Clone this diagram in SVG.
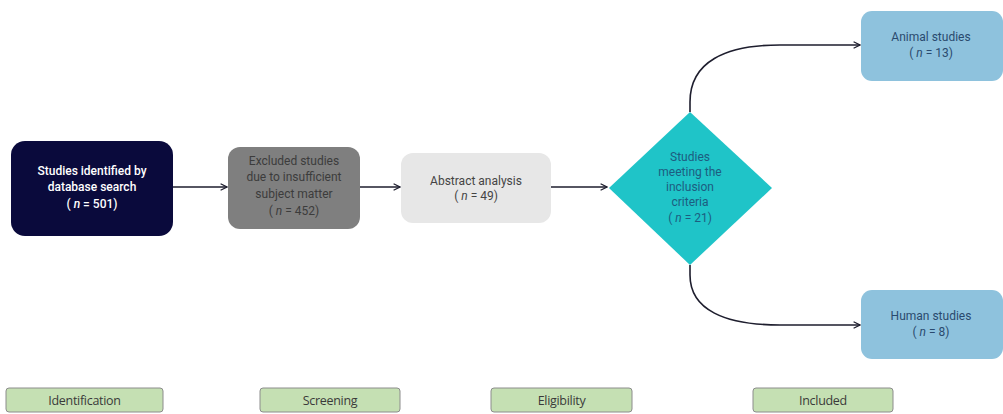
<svg xmlns="http://www.w3.org/2000/svg" width="1003" height="414" viewBox="0 0 1003 414">
<defs>
<style>
.t{font-family:Roboto,"Liberation Sans",sans-serif;font-size:12px;text-anchor:middle}
.lab{font-family:"Open Sans","Liberation Sans",sans-serif;font-size:12.5px;text-anchor:middle;fill:#3a3a3a;letter-spacing:-0.3px}
.conn{fill:none;stroke:#1e1e2e;stroke-width:1.6}
.stage{fill:#c5e0b3;stroke:#8c8c8c;stroke-width:1}
</style>
<marker id="arr" viewBox="0 0 10 10" refX="9" refY="5" markerWidth="8" markerHeight="8" orient="auto" markerUnits="userSpaceOnUse">
<path d="M1,1 L9,5 L1,9" fill="none" stroke="#1e1e2e" stroke-width="1.6"/>
</marker>
</defs>
<rect width="1003" height="414" fill="#ffffff"/>
<g id="connectors">
<line class="conn" x1="173" y1="187" x2="227" y2="187" marker-end="url(#arr)"/>
<line class="conn" x1="360" y1="187" x2="400" y2="187" marker-end="url(#arr)"/>
<line class="conn" x1="551" y1="187" x2="607" y2="187" marker-end="url(#arr)"/>
<path class="conn" d="M690,112 L690,102 C690,62 725,45 780,45 L860,45" marker-end="url(#arr)"/>
<path class="conn" d="M690,265 L690,275 C690,310 725,325 780,325 L860,325" marker-end="url(#arr)"/>
</g>
<g id="n1">
<rect x="11" y="141" width="162" height="95" rx="14" fill="#0a0a3c"/>
<text class="t" fill="#ffffff" font-weight="500" x="92" y="175">Studies identified by</text>
<text class="t" fill="#ffffff" font-weight="500" x="92" y="191">database search</text>
<text class="t" fill="#ffffff" font-weight="500" x="92" y="208">( <tspan font-style="italic">n</tspan> = 501)</text>
</g>
<g id="n2">
<rect x="228" y="147" width="132" height="82" rx="12" fill="#7f7f7f"/>
<text class="t" fill="#3c3c3c" x="294" y="165">Excluded studies</text>
<text class="t" fill="#3c3c3c" x="294" y="181">due to insufficient</text>
<text class="t" fill="#3c3c3c" x="294" y="198">subject matter</text>
<text class="t" fill="#3c3c3c" x="294" y="215">( <tspan font-style="italic">n</tspan> = 452)</text>
</g>
<g id="n3">
<rect x="401" y="153" width="150" height="70" rx="12" fill="#e7e7e7"/>
<text class="t" fill="#444444" x="476" y="185">Abstract analysis</text>
<text class="t" fill="#444444" x="476" y="200">( <tspan font-style="italic">n</tspan> = 49)</text>
</g>
<g id="n4">
<polygon points="690,112 772,188 690,265 609,188" fill="#1fc4c8"/>
<text class="t" fill="#1d5d80" font-size="10.5" x="690" y="161">Studies</text>
<text class="t" fill="#1d5d80" font-size="10.5" x="690" y="176">meeting the</text>
<text class="t" fill="#1d5d80" font-size="10.5" x="690" y="191">inclusion</text>
<text class="t" fill="#1d5d80" font-size="10.5" x="690" y="206">criteria</text>
<text class="t" fill="#1d5d80" font-size="10.5" x="690" y="222">( <tspan font-style="italic">n</tspan> = 21)</text>
</g>
<g id="n5">
<rect x="861" y="11" width="142" height="70" rx="11" fill="#8ec2dd"/>
<text class="t" fill="#2a4a6e" x="931" y="41">Animal studies</text>
<text class="t" fill="#2a4a6e" x="931" y="57">( <tspan font-style="italic">n</tspan> = 13)</text>
</g>
<g id="n6">
<rect x="861" y="290" width="142" height="69" rx="11" fill="#8ec2dd"/>
<text class="t" fill="#2a4a6e" x="931" y="320">Human studies</text>
<text class="t" fill="#2a4a6e" x="931" y="336">( <tspan font-style="italic">n</tspan> = 8)</text>
</g>
<g id="s1">
<rect class="stage" x="6" y="388" width="157" height="24" rx="3"/>
<text class="lab" x="84.5" y="404.5">Identification</text>
</g>
<g id="s2">
<rect class="stage" x="260" y="388" width="140" height="24" rx="3"/>
<text class="lab" x="330" y="404.5">Screening</text>
</g>
<g id="s3">
<rect class="stage" x="491" y="388" width="141" height="24" rx="3"/>
<text class="lab" x="561.5" y="404.5">Eligibility</text>
</g>
<g id="s4">
<rect class="stage" x="753" y="388" width="140" height="24" rx="3"/>
<text class="lab" x="823" y="404.5">Included</text>
</g>
</svg>
